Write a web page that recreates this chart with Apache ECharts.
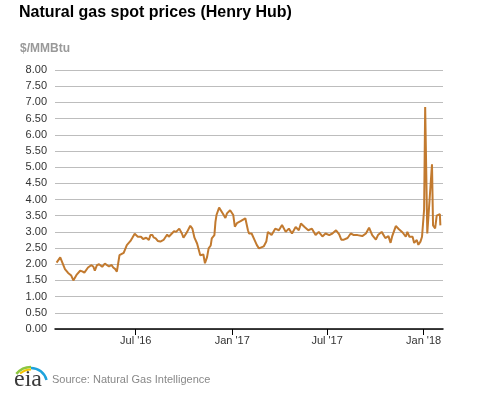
<!DOCTYPE html>
<html>
<head>
<meta charset="utf-8">
<script src="https://cdn.jsdelivr.net/npm/echarts@6/dist/echarts.min.js"></script>
<style>
html,body{margin:0;padding:0;background:#fff;}
#chart{width:477px;height:393px;}
</style>
</head>
<body>
<div id="chart"></div>
<script>
const dates = [
"2016-02-01","2016-02-08","2016-02-12","2016-02-17","2016-02-23","2016-02-29","2016-03-04","2016-03-10","2016-03-17","2016-03-21","2016-03-25",
"2016-04-01","2016-04-07","2016-04-11","2016-04-14","2016-04-18","2016-04-22","2016-04-28","2016-05-03","2016-05-06","2016-05-11","2016-05-16",
"2016-05-19","2016-05-23","2016-05-26","2016-05-31","2016-06-03","2016-06-08","2016-06-14","2016-06-21","2016-06-24","2016-06-29","2016-07-05",
"2016-07-07","2016-07-11","2016-07-15","2016-07-21","2016-07-26","2016-07-29","2016-08-02","2016-08-04","2016-08-08","2016-08-12","2016-08-17",
"2016-08-23","2016-08-30","2016-09-02","2016-09-12","2016-09-16","2016-09-22","2016-09-27","2016-09-30","2016-10-07","2016-10-13","2016-10-17",
"2016-10-21","2016-10-26","2016-10-28","2016-11-01","2016-11-04","2016-11-07","2016-11-10","2016-11-14","2016-11-17","2016-11-21","2016-11-23",
"2016-11-28","2016-11-30","2016-12-02","2016-12-07","2016-12-09","2016-12-14","2016-12-19","2016-12-22","2016-12-28","2017-01-03","2017-01-06",
"2017-01-10","2017-01-13","2017-01-17","2017-01-20","2017-01-26","2017-01-31","2017-02-02","2017-02-07","2017-02-14","2017-02-17","2017-02-21",
"2017-02-24","2017-03-02","2017-03-07","2017-03-10","2017-03-17","2017-03-24","2017-03-31","2017-04-06","2017-04-13","2017-04-19","2017-04-25",
"2017-05-02","2017-05-08","2017-05-12","2017-05-19","2017-05-26","2017-06-02","2017-06-09","2017-06-15","2017-06-22","2017-06-28","2017-07-05",
"2017-07-11","2017-07-18","2017-07-24","2017-07-28","2017-08-02","2017-08-09","2017-08-15","2017-08-21","2017-08-28","2017-09-06","2017-09-13",
"2017-09-19","2017-09-25","2017-10-02","2017-10-06","2017-10-13","2017-10-20","2017-10-26","2017-10-30","2017-11-02","2017-11-09","2017-11-15",
"2017-11-22","2017-11-28","2017-12-01","2017-12-05","2017-12-11","2017-12-14","2017-12-19","2017-12-22","2017-12-26","2017-12-29","2018-01-02",
"2018-01-04","2018-01-08","2018-01-10","2018-01-17","2018-01-19","2018-01-23","2018-01-26","2018-01-29","2018-02-01","2018-02-02"
];
const prices = [
2.05,2.21,2.05,1.85,1.73,1.65,1.50,1.67,1.80,1.78,1.74,
1.90,1.97,1.93,1.80,1.97,2.00,1.92,2.02,2.03,1.93,1.98,
1.90,1.85,1.77,2.28,2.30,2.35,2.59,2.72,2.80,2.94,2.85,
2.80,2.85,2.78,2.82,2.75,2.90,2.90,2.83,2.80,2.72,2.70,
2.75,2.92,2.85,3.02,3.00,3.10,2.95,2.82,3.00,3.19,3.10,
2.82,2.64,2.70,2.28,2.22,2.30,2.03,2.22,2.49,2.58,2.80,
2.90,3.31,3.52,3.75,3.70,3.57,3.43,3.57,3.67,3.52,3.16,
3.27,3.28,3.33,3.36,3.42,3.05,2.95,2.95,2.70,2.59,2.49,
2.45,2.55,2.70,3.00,2.90,3.10,3.05,3.21,3.00,3.10,2.95,
3.15,3.05,3.26,3.15,3.05,3.10,2.90,3.00,2.86,2.95,2.90,
2.95,3.05,2.92,2.76,2.76,2.81,2.95,2.90,2.90,2.87,2.95,
3.13,2.90,2.76,2.90,3.00,2.81,2.87,2.66,2.86,3.18,3.08,
2.98,2.85,3.00,2.85,2.85,2.66,2.75,2.60,2.70,2.85,3.70,
6.86,2.95,2.90,5.09,3.20,3.11,3.50,3.55,3.55,3.20
];
const xTickDates = ["2016-07-01","2017-01-01","2017-07-01","2018-01-01"];
const xTickLabels = ["Jul '16","Jan '17","Jul '17","Jan '18"];
const xMin = "2016-01-29";
const xMax = "2018-02-07";
const yMin = 0, yMax = 8, yStep = 0.5;

const chart = echarts.init(document.getElementById('chart'), null, {renderer:'canvas'});
const toMs = s => Date.UTC(+s.slice(0,4), +s.slice(5,7) - 1, +s.slice(8,10));
const tickTimes = xTickDates.map(toMs);
const FONT = '"Liberation Sans", Arial, sans-serif';

chart.setOption({
  animation: false,
  backgroundColor: '#fff',
  title: [
    {text: 'Natural gas spot prices (Henry Hub)', left: 19, top: 5, padding: 0,
     textStyle: {fontFamily: FONT, fontSize: 16, fontWeight: 'bold', color: '#000'}},
    {text: '$/MMBtu', left: 20, top: 43, padding: 0,
     textStyle: {fontFamily: FONT, fontSize: 12, fontWeight: 'bold', color: '#999'}}
  ],
  grid: {left: 55, right: 34, top: 70, bottom: 64, containLabel: false},
  xAxis: {
    type: 'value',
    min: toMs(xMin),
    max: toMs(xMax),
    axisLine: {show: true, lineStyle: {color: '#000', width: 1.5}},
    axisTick: {show: true, customValues: tickTimes, length: 6, lineStyle: {color: '#000', width: 1}},
    axisLabel: {
      customValues: tickTimes, margin: 6, showMinLabel: true, showMaxLabel: true,
      fontFamily: FONT, fontSize: 11, color: '#333',
      formatter: v => { const i = tickTimes.indexOf(v); return i >= 0 ? xTickLabels[i] : ''; }
    },
    splitLine: {show: false}
  },
  yAxis: {
    type: 'value',
    min: yMin, max: yMax, interval: yStep,
    axisLine: {show: false},
    axisTick: {show: false},
    axisLabel: {margin: 8, fontFamily: FONT, fontSize: 11, color: '#333', formatter: v => v.toFixed(2)},
    splitLine: {show: true, lineStyle: {color: '#bdbdbd', width: 1}}
  },
  series: [{
    type: 'line',
    data: dates.map((d, i) => [toMs(d), prices[i]]),
    showSymbol: false,
    lineStyle: {color: '#c27a2f', width: 2},
    itemStyle: {color: '#c27a2f'}
  }],
  graphic: [
    {type: 'arc', shape: {cx: 31, cy: 386, r: 19, startAngle: Math.PI * 1.22, endAngle: Math.PI * 1.5}, style: {stroke: '#8dc63f', lineWidth: 2.5, fill: null}},
    {type: 'arc', shape: {cx: 31, cy: 386, r: 16.5, startAngle: Math.PI * 1.27, endAngle: Math.PI * 1.5}, style: {stroke: '#f5c400', lineWidth: 2, fill: null}},
    {type: 'arc', shape: {cx: 31, cy: 384, r: 16, startAngle: Math.PI * 1.5, endAngle: Math.PI * 1.92}, style: {stroke: '#1ea3dc', lineWidth: 2.5, fill: null}},
    {type: 'text', left: 14, top: 368, style: {text: 'eia', font: '24px "Liberation Serif", serif', fill: '#3a3a3a'}},
    {type: 'text', left: 52, top: 374, style: {text: 'Source: Natural Gas Intelligence', font: '11px "Liberation Sans", Arial, sans-serif', fill: '#888'}}
  ]
});
</script>
</body>
</html>
